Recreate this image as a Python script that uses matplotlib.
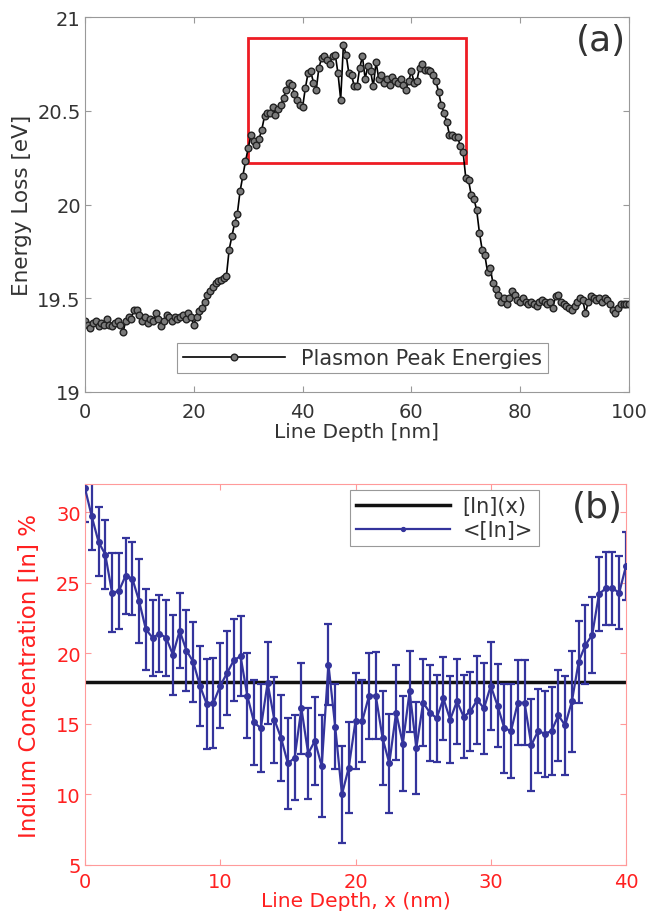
import numpy as np
import matplotlib.pyplot as plt
from matplotlib.patches import Rectangle

# ---- panel (a): plasmon peak energies, 0.5 nm steps ----
depth_a = np.arange(0, 100.5, 0.5)
energy = [
    19.38, 19.36, 19.34, 19.37, 19.38, 19.35, 19.37, 19.36, 19.39, 19.36,
    19.35, 19.37, 19.38, 19.36, 19.32, 19.38, 19.40, 19.39, 19.44, 19.44,
    19.41, 19.38, 19.40, 19.37, 19.39, 19.38, 19.42, 19.39, 19.35, 19.38,
    19.41, 19.40, 19.38, 19.40, 19.39, 19.40, 19.41, 19.39, 19.42, 19.40,
    19.36, 19.40, 19.43, 19.45, 19.48, 19.52, 19.54, 19.56, 19.58, 19.59,
    19.60, 19.61, 19.62, 19.76, 19.83, 19.90, 19.95, 20.07, 20.15, 20.23,
    20.30, 20.37, 20.34, 20.32, 20.35, 20.40, 20.47, 20.49, 20.49, 20.52,
    20.48, 20.51, 20.53, 20.57, 20.61, 20.65, 20.64, 20.59, 20.56, 20.53,
    20.52, 20.62, 20.70, 20.71, 20.65, 20.61, 20.73, 20.78, 20.79, 20.77,
    20.75, 20.79, 20.80, 20.70, 20.56, 20.85, 20.80, 20.70, 20.69, 20.63,
    20.63, 20.73, 20.79, 20.67, 20.74, 20.71, 20.63, 20.76, 20.67, 20.69,
    20.65, 20.67, 20.64, 20.68, 20.66, 20.65, 20.67, 20.64, 20.61, 20.66,
    20.71, 20.65, 20.66, 20.73, 20.75, 20.72, 20.72, 20.71, 20.69, 20.66,
    20.60, 20.53, 20.49, 20.44, 20.37, 20.37, 20.36, 20.36, 20.31, 20.28,
    20.14, 20.13, 20.05, 20.03, 19.97, 19.85, 19.76, 19.73, 19.64, 19.66,
    19.58, 19.55, 19.52, 19.48, 19.50, 19.47, 19.50, 19.54, 19.52, 19.49,
    19.48, 19.50, 19.48, 19.47, 19.48, 19.47, 19.46, 19.48, 19.49, 19.48,
    19.47, 19.48, 19.45, 19.51, 19.52, 19.48, 19.47, 19.46, 19.45, 19.44,
    19.46, 19.48, 19.50, 19.49, 19.42, 19.48, 19.51, 19.50, 19.49, 19.50,
    19.48, 19.50, 19.49, 19.47, 19.44, 19.42, 19.45, 19.47, 19.47, 19.47,
    19.47,
]
box_x = [30, 70]
box_y = [20.22, 20.89]

# ---- panel (b): indium concentration ----
depth_b = np.arange(0, 40.5, 0.5)
indium = [
    31.7, 29.7, 27.9, 27.0, 24.3, 24.4, 25.5, 25.3, 23.7, 21.7,
    21.1, 21.4, 21.1, 19.9, 21.6, 20.2, 19.4, 17.7, 16.4, 16.5,
    17.7, 18.6, 19.5, 19.8, 17.0, 15.1, 14.7, 17.9, 15.3, 14.0,
    12.2, 12.6, 16.1, 12.9, 13.8, 12.0, 19.2, 14.8, 10.0, 11.9,
    15.2, 15.2, 17.0, 17.0, 14.0, 12.2, 15.8, 13.6, 17.3, 13.3,
    16.5, 15.8, 15.4, 16.8, 15.3, 16.6, 15.5, 15.9, 16.7, 16.1,
    17.7, 16.3, 14.7, 14.5, 16.5, 16.5, 13.5, 14.5, 14.3, 14.5,
    15.6, 14.9, 16.6, 19.4, 20.6, 21.3, 24.2, 24.6, 24.6, 24.3,
    26.2,
]
indium_err = [
    2.4, 2.4, 2.45, 2.45, 2.8, 2.7, 2.7, 2.6, 3.0, 2.85,
    2.7, 2.7, 2.7, 2.85, 2.65, 2.85, 2.85, 2.85, 3.2, 3.2,
    3.0, 2.95, 2.9, 2.85, 3.0, 3.0, 3.1, 2.9, 3.05, 3.05,
    3.2, 3.0, 3.25, 3.25, 3.1, 3.6, 2.85, 3.0, 3.45, 3.2,
    3.4, 2.9, 3.05, 3.1, 3.35, 3.5, 3.35, 3.35, 2.9, 3.25,
    3.1, 3.4, 3.1, 2.95, 3.1, 3.0, 2.95, 2.8, 3.1, 3.2,
    3.1, 2.95, 3.15, 3.3, 3.0, 3.0, 3.25, 2.95, 3.05, 3.1,
    3.25, 3.5, 3.6, 2.9, 2.8, 2.7, 2.6, 2.6, 2.6, 2.6,
    2.4,
]
mean_in = 18.0

red = '#ff2020'
pink = '#ff9a9a'
blue = '#34349c'
grey = '#999999'

plt.rcParams['font.family'] = 'DejaVu Sans'
fig = plt.figure(figsize=(6.5, 9.2), dpi=100)

# (a)
ax1 = fig.add_axes([85/650, 1-393/920, 544/650, 375/920])
ax1.plot(depth_a, energy, '-o', color='black', lw=1.2, ms=4.8,
         mfc='#7a7a7a', mec='#222222', mew=1.0, label='Plasmon Peak Energies')
ax1.add_patch(Rectangle((box_x[0], box_y[0]), box_x[1]-box_x[0], box_y[1]-box_y[0],
                        fill=False, ec='#ee1c24', lw=2))
ax1.set_xlim(0, 100)
ax1.set_ylim(19, 21)
ax1.set_xticks([0, 20, 40, 60, 80, 100])
ax1.set_yticks([19, 19.5, 20, 20.5, 21])
ax1.set_yticklabels(['19', '19.5', '20', '20.5', '21'])
ax1.tick_params(direction='in', top=True, right=True, length=4, color=grey,
                labelsize=14, labelcolor='#333333', pad=3)
ax1.tick_params(axis='x', pad=7)
for s in ax1.spines.values():
    s.set_color(grey)
ax1.set_xlabel('Line Depth [nm]', fontsize=14.5, color='#333333', labelpad=1)
ax1.set_ylabel('Energy Loss [eV]', fontsize=15.5, color='#333333', labelpad=4)
ax1.text(0.995, 0.985, '(a)', transform=ax1.transAxes, ha='right', va='top',
         fontsize=26, color='#333333')
leg1 = ax1.legend(loc='lower center', bbox_to_anchor=(0.51, 0.05), fontsize=15,
                  handlelength=4.9, fancybox=False, edgecolor=grey, framealpha=1,
                  borderpad=0.25, handletextpad=0.8, borderaxespad=0)
leg1.get_frame().set_linewidth(0.8)
for t in leg1.get_texts():
    t.set_color('#333333')

# (b)
ax2 = fig.add_axes([85/650, 1-866/920, 541/650, 381/920])
ax2.plot([depth_b[0], depth_b[-1]], [mean_in, mean_in], color='#111111', lw=2.5,
         label='[In](x)', zorder=1)
ax2.errorbar(depth_b, indium, yerr=indium_err, fmt='none', ecolor=blue,
             elinewidth=1.6, capsize=3, capthick=1.6, zorder=2)
ax2.plot(depth_b, indium, '-o', color=blue, lw=1.6, ms=4, mfc=blue, mec=blue,
         label='<[In]>', zorder=3)
ax2.set_xlim(0, 40)
ax2.set_ylim(5, 32)
ax2.set_xticks([0, 10, 20, 30, 40])
ax2.set_yticks([5, 10, 15, 20, 25, 30])
ax2.tick_params(direction='in', top=True, right=True, length=4, color=pink,
                labelsize=14, labelcolor=red, pad=3)
ax2.tick_params(axis='x', pad=5)
for s in ax2.spines.values():
    s.set_color(pink)
ax2.set_xlabel('Line Depth, x (nm)', fontsize=14.5, color=red, labelpad=0)
ax2.set_ylabel('Indium Concentration [In] %', fontsize=16.5, color=red, labelpad=11)
ax2.text(0.995, 0.985, '(b)', transform=ax2.transAxes, ha='right', va='top',
         fontsize=26, color='#333333')
leg2 = ax2.legend(loc='upper left', bbox_to_anchor=(0.49, 0.985), fontsize=15,
                  handlelength=4.5, fancybox=False, edgecolor=grey, framealpha=1,
                  borderpad=0.3, handletextpad=0.6, labelspacing=0.2,
                  markerscale=0.7, borderaxespad=0)
leg2.get_frame().set_linewidth(0.8)
for t in leg2.get_texts():
    t.set_color('#333333')

fig.savefig('out.png', dpi=100)
